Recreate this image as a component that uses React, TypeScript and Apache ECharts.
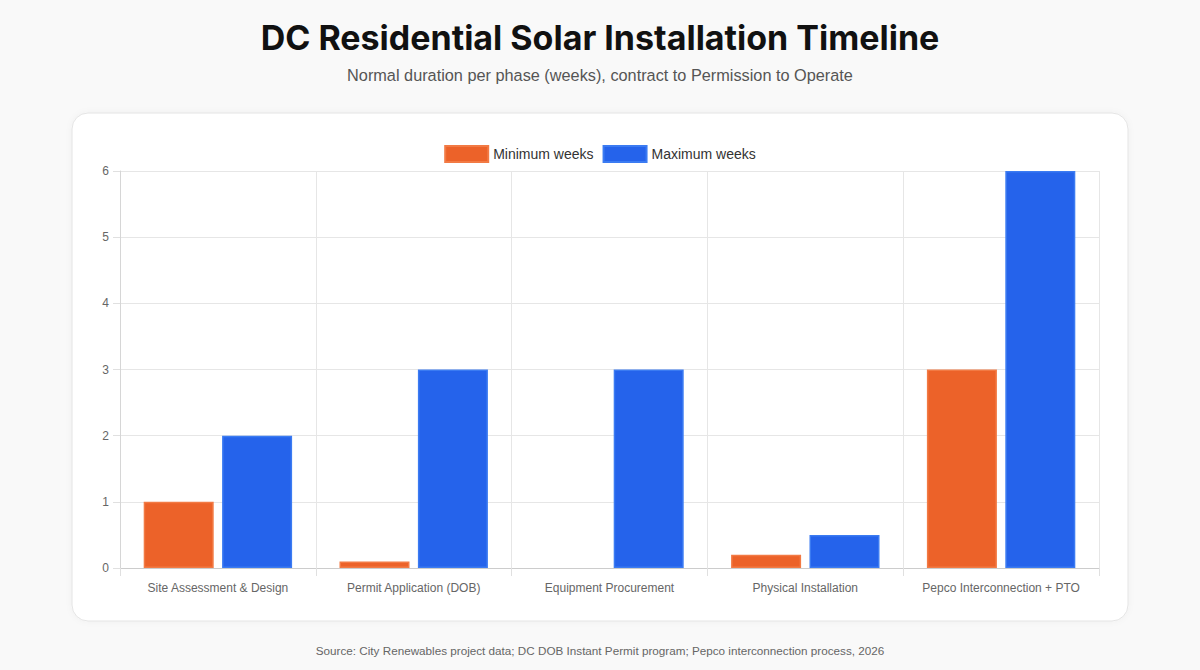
import React, { useEffect, useRef } from "react";
import * as echarts from "echarts";

const categories = [
  "Site Assessment & Design",
  "Permit Application (DOB)",
  "Equipment Procurement",
  "Physical Installation",
  "Pepco Interconnection + PTO",
];
const minWeeks = [1, 0.1, 0, 0.2, 3];
const maxWeeks = [2, 3, 3, 0.5, 6];
const seriesNames = ["Minimum weeks", "Maximum weeks"];

const FONT = "'Helvetica Neue', Helvetica, Arial, 'Liberation Sans', sans-serif";

const toData = (arr: number[]) =>
  arr.map((v) => (v === 0 ? { value: v, itemStyle: { borderWidth: 0 } } : v));

export default function App() {
  const ref = useRef<HTMLDivElement>(null);
  useEffect(() => {
    if (!ref.current) return;
    const chart = echarts.init(ref.current, undefined, { renderer: "svg" });
    chart.setOption({
      animation: false,
      backgroundColor: "#f9f9f9",
      textStyle: { fontFamily: FONT },
      title: [
        {
          text: "DC Residential Solar Installation Timeline",
          left: "center",
          top: 15,
          textStyle: { fontFamily: "Inter, " + FONT, fontWeight: 700, fontSize: 34, color: "#111111" },
        },
        {
          text: "Normal duration per phase (weeks), contract to Permission to Operate",
          left: "center",
          top: 62,
          textStyle: { fontFamily: FONT, fontWeight: 400, fontSize: 16.3, color: "#555555" },
        },
        {
          text: "Source: City Renewables project data; DC DOB Instant Permit program; Pepco interconnection process, 2026",
          left: "center",
          top: 639,
          textStyle: { fontFamily: FONT, fontWeight: 400, fontSize: 11.7, color: "#666666" },
        },
      ],
      graphic: [
        {
          type: "rect",
          z: -10,
          silent: true,
          shape: { x: 72, y: 113, width: 1056, height: 508, r: 16 },
          style: { fill: "#ffffff", stroke: "#e4e4e4", lineWidth: 1, shadowBlur: 6, shadowColor: "rgba(0,0,0,0.04)" },
        },
      ],
      legend: {
        top: 140,
        left: "center",
        itemWidth: 43,
        itemHeight: 16,
        itemGap: 9,
        icon: "rect",
        textStyle: { fontSize: 14, color: "#333333", fontFamily: FONT },
        data: seriesNames,
      },
      grid: { left: 120, right: 101, top: 171, bottom: 102, containLabel: false },
      xAxis: {
        type: "category",
        data: categories,
        axisLine: { show: true, lineStyle: { color: "#cccccc", width: 1 } },
        axisTick: { show: true, length: 8, interval: 0, lineStyle: { color: "#e0e0e0" } },
        splitLine: { show: true, interval: 0, lineStyle: { color: "#e6e6e6", width: 1 } },
        axisLabel: { fontSize: 12, color: "#666666", margin: 14, interval: 0, fontFamily: FONT },
      },
      yAxis: {
        type: "value",
        min: 0,
        max: 6,
        interval: 1,
        axisLine: { show: true, lineStyle: { color: "#d6d6d6", width: 1 } },
        axisTick: { show: true, length: 7, lineStyle: { color: "#e0e0e0" } },
        splitLine: { show: true, lineStyle: { color: "#e6e6e6", width: 1 } },
        axisLabel: { fontSize: 12, color: "#666666", margin: 11, fontFamily: FONT },
      },
      series: [
        {
          name: seriesNames[0],
          type: "bar",
          data: toData(minWeeks),
          barWidth: 70,
          barGap: "12%",
          itemStyle: { color: "#EC6229", borderColor: "#F27A44", borderWidth: 1.5 },
        },
        {
          name: seriesNames[1],
          type: "bar",
          data: toData(maxWeeks),
          barWidth: 70,
          barGap: "12%",
          itemStyle: { color: "#2563EB", borderColor: "#3B7BF2", borderWidth: 1.5 },
        },
      ],
    });
    return () => chart.dispose();
  }, []);
  return (
    <div style={{ position: "fixed", left: 0, top: 0, width: 1200, height: 670 }}>
      <div ref={ref} style={{ width: 1200, height: 670 }} />
    </div>
  );
}
